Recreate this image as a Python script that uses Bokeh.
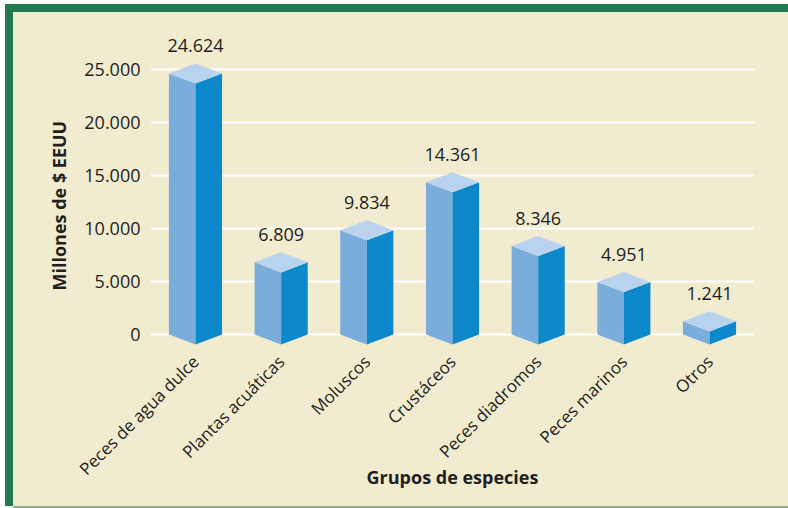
import math
from bokeh.plotting import figure
from bokeh.models import ColumnDataSource, FixedTicker, LabelSet, Title
from bokeh.core.properties import value
from bokeh.embed import file_html
from bokeh.resources import INLINE

categories = ["Peces de agua dulce", "Plantas acuáticas", "Moluscos", "Crustáceos",
              "Peces diadromos", "Peces marinos", "Otros"]
values = [24624, 6809, 9834, 14361, 8346, 4951, 1241]
value_labels = ["24.624", "6.809", "9.834", "14.361", "8.346", "4.951", "1.241"]
y_ticks = [0, 5000, 10000, 15000, 20000, 25000]
y_tick_labels = ["0", "5.000", "10.000", "15.000", "20.000", "25.000"]

BG = "#f1ebd0"
GREEN = "#237a4f"
FRONT = "#7aaddc"
SIDE = "#0d88cb"
TOP = "#b9d2ee"
TXT = "#231f20"
FONT = "Open Sans"

X0, X1 = -0.525, 6.525
Y0, Y1 = -1509, 28868
p = figure(width=775, height=494, output_backend="svg", toolbar_location=None,
           x_range=(X0, X1), y_range=(Y0, Y1),
           min_border_left=137, min_border_right=34, min_border_top=16, min_border_bottom=156)
p.background_fill_color = None
p.border_fill_color = BG
p.outline_line_color = None
p.styles = {"margin-left": "13px", "margin-top": "12px",
            "box-shadow": f"0 -8px 0 0 {GREEN}, -8px 0 0 0 {GREEN}, -8px -8px 0 0 {GREEN}, 0 2px 0 0 #8fae96",
            "background-color": BG}

pxy = 322 / (Y1 - Y0)

half = 0.31
depth = 950
xs_front, ys_front, xs_side, ys_side, xs_top, ys_top = [], [], [], [], [], []
for i, v in enumerate(values):
    x = i
    xs_front.append([x - half, x, x, x - half])
    ys_front.append([v, v - depth, -depth, 0])
    xs_side.append([x, x + half, x + half, x])
    ys_side.append([v - depth, v, 0, -depth])
    xs_top.append([x - half, x, x + half, x])
    ys_top.append([v, v + depth, v, v - depth])

p.patches(xs_front, ys_front, fill_color=FRONT, line_color=None)
p.patches(xs_side, ys_side, fill_color=SIDE, line_color=None)
p.patches(xs_top, ys_top, fill_color=TOP, line_color=None)

src = ColumnDataSource(dict(x=list(range(len(values))),
                            y=[v + 28 / pxy for v in values],
                            t=value_labels))
p.add_layout(LabelSet(x="x", y="y", text="t", source=src, text_align="center",
                      text_baseline="middle", text_font=value(FONT), text_font_size="18px",
                      text_color=TXT))

# axes
p.xgrid.visible = False
p.ygrid.grid_line_color = "white"
p.ygrid.grid_line_width = 2
p.yaxis.ticker = FixedTicker(ticks=y_ticks)
p.yaxis.major_label_overrides = {t: l for t, l in zip(y_ticks, y_tick_labels)}
p.xaxis.ticker = FixedTicker(ticks=list(range(len(categories))))
p.xaxis.major_label_overrides = {i: c for i, c in enumerate(categories)}
p.xaxis.major_label_orientation = math.pi / 4
for ax in (p.xaxis, p.yaxis):
    ax.axis_line_color = None
    ax.major_tick_line_color = None
    ax.minor_tick_line_color = None
    ax.major_tick_out = 0
    ax.major_tick_in = 0
    ax.major_label_text_font = FONT
    ax.major_label_text_color = TXT
p.yaxis.major_label_text_font_size = "18px"
p.yaxis.major_label_standoff = 10
p.xaxis.major_label_text_font_size = "17px"
p.xaxis.major_label_standoff = 8

# axis titles
p.add_layout(Title(text="Millones de $ EEUU", align="left", offset=60, standoff=21,
                   text_font=FONT, text_font_size="18px", text_font_style="bold",
                   text_color=TXT), "left")
p.add_layout(Title(text="Grupos de especies", align="center", vertical_align="top",
                   standoff=-52, text_font=FONT, text_font_size="18px",
                   text_font_style="bold", text_color=TXT), "below")

open("out.html", "w").write(file_html(p, INLINE))
